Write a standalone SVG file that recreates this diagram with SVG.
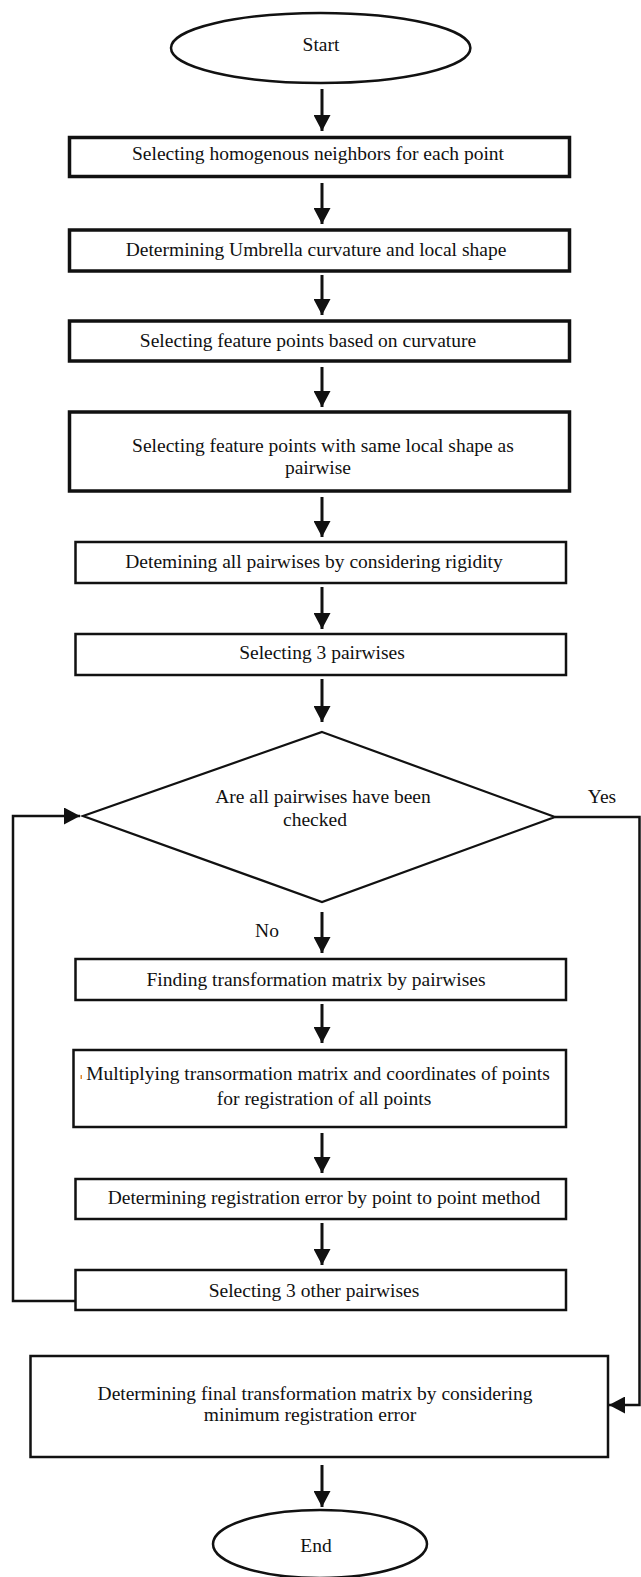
<svg xmlns="http://www.w3.org/2000/svg" width="641" height="1577" viewBox="0 0 641 1577">
<defs>
<style>
text{font-family:"Liberation Serif","Times New Roman",serif;font-size:19.5px;fill:#111;text-anchor:middle}
.b1{fill:#fff;stroke:#111;stroke-width:3.5}
.b2{fill:#fff;stroke:#111;stroke-width:2.5}
.ov{fill:#fff;stroke:#111;stroke-width:2.5}
.ln{fill:none;stroke:#111;stroke-width:3}
.lp{fill:none;stroke:#111;stroke-width:2.5}
.ah{fill:#111;stroke:none}
</style>
<marker id="arr" viewBox="0 0 16 17" refX="16" refY="8.5" markerWidth="16" markerHeight="17" markerUnits="userSpaceOnUse" orient="auto">
<path d="M0,0 L16,8.5 L0,17 Z" class="ah"/>
</marker>
</defs>
<g id="connectors">
<line class="ln" x1="322" y1="89" x2="322" y2="131" marker-end="url(#arr)"/>
<line class="ln" x1="322" y1="183" x2="322" y2="224" marker-end="url(#arr)"/>
<line class="ln" x1="322" y1="275" x2="322" y2="315" marker-end="url(#arr)"/>
<line class="ln" x1="322" y1="367" x2="322" y2="407" marker-end="url(#arr)"/>
<line class="ln" x1="322" y1="497" x2="322" y2="537" marker-end="url(#arr)"/>
<line class="ln" x1="322" y1="587" x2="322" y2="629" marker-end="url(#arr)"/>
<line class="ln" x1="322" y1="679" x2="322" y2="722" marker-end="url(#arr)"/>
<line class="ln" x1="322" y1="912" x2="322" y2="953" marker-end="url(#arr)"/>
<line class="ln" x1="322" y1="1004" x2="322" y2="1043" marker-end="url(#arr)"/>
<line class="ln" x1="322" y1="1133" x2="322" y2="1173" marker-end="url(#arr)"/>
<line class="ln" x1="322" y1="1223" x2="322" y2="1265" marker-end="url(#arr)"/>
<line class="ln" x1="322" y1="1465" x2="322" y2="1507" marker-end="url(#arr)"/>
<polyline class="lp" points="75,1301 13,1301 13,816 80,816" marker-end="url(#arr)"/>
<polyline class="lp" points="555,817 639.5,817 639.5,1405 609,1405" marker-end="url(#arr)"/>
<text x="602" y="803">Yes</text>
<text x="267" y="937">No</text>
</g>
<g id="start">
<ellipse class="ov" cx="320.7" cy="48" rx="149.7" ry="35"/>
<text x="321" y="51">Start</text>
</g>
<g id="n1">
<rect class="b1" x="69.5" y="137.5" width="500" height="39"/>
<text x="318" y="160">Selecting homogenous neighbors for each point</text>
</g>
<g id="n2">
<rect class="b1" x="69.5" y="230" width="500" height="41"/>
<text x="316" y="256">Determining Umbrella curvature and local shape</text>
</g>
<g id="n3">
<rect class="b1" x="69.5" y="321" width="500" height="40"/>
<text x="308" y="347">Selecting feature points based on curvature</text>
</g>
<g id="n4">
<rect class="b1" x="69.5" y="412" width="500" height="79"/>
<text x="323" y="452">Selecting feature points with same local shape as</text>
<text x="318" y="474">pairwise</text>
</g>
<g id="n5">
<rect class="b2" x="75.5" y="542" width="490.5" height="41"/>
<text x="314" y="568">Detemining all pairwises by considering rigidity</text>
</g>
<g id="n6">
<rect class="b2" x="75.5" y="634" width="490.5" height="41"/>
<text x="322" y="659">Selecting 3 pairwises</text>
</g>
<g id="decision">
<polygon points="322,732 555,817 322,902 83,816" fill="#fff" stroke="#111" stroke-width="2.2" stroke-linejoin="miter"/>
<text x="323" y="803">Are all pairwises have been</text>
<text x="315" y="826">checked</text>
</g>
<g id="n7">
<rect class="b2" x="75.5" y="959" width="490.5" height="41"/>
<text x="316" y="986">Finding transformation matrix by pairwises</text>
</g>
<g id="n8">
<rect class="b2" x="73.5" y="1050" width="492.5" height="77"/>
<rect x="80.5" y="1075" width="1.5" height="4" fill="#e08a30"/>
<text x="318" y="1080">Multiplying transormation matrix and coordinates of points</text>
<text x="324" y="1105">for registration of all points</text>
</g>
<g id="n9">
<rect class="b2" x="75.5" y="1179" width="490.5" height="40"/>
<text x="324" y="1204">Determining registration error by point to point method</text>
</g>
<g id="n10">
<rect class="b2" x="75.5" y="1270" width="490.5" height="40"/>
<text x="314" y="1297">Selecting 3 other pairwises</text>
</g>
<g id="n11">
<rect class="b2" x="30.5" y="1356" width="577.5" height="101"/>
<text x="315" y="1400">Determining final transformation matrix by considering</text>
<text x="310" y="1421">minimum registration error</text>
</g>
<g id="end">
<ellipse class="ov" cx="320" cy="1544" rx="107" ry="34"/>
<text x="316" y="1552">End</text>
</g>
</svg>
